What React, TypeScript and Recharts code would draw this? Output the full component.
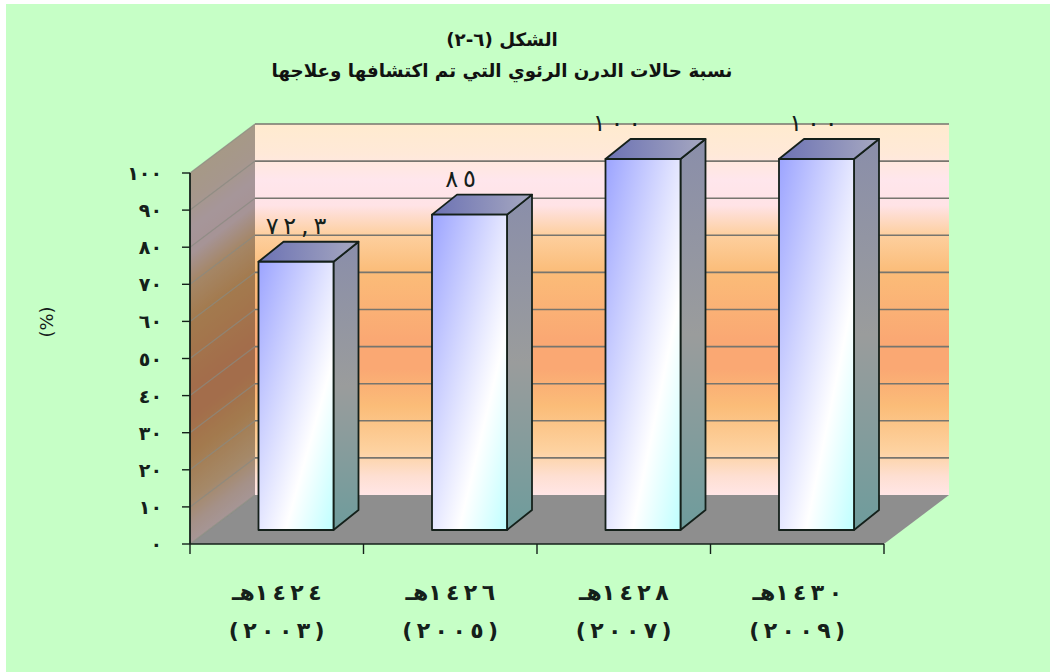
import { BarChart, Bar, XAxis, YAxis, LabelList, Label, ReferenceArea, ReferenceLine } from "recharts";

const hijriYears = ["١٤٢٤هـ", "١٤٢٦هـ", "١٤٢٨هـ", "١٤٣٠هـ"];
const gregorianYears = ["(٢٠٠٣)", "(٢٠٠٥)", "(٢٠٠٧)", "(٢٠٠٩)"];
const detectionRates = [72.3, 85, 100, 100];
const yTicks = [0, 10, 20, 30, 40, 50, 60, 70, 80, 90, 100];
const titleLines = ["الشكل (٦-٢)", "نسبة حالات الدرن الرئوي التي تم اكتشافها وعلاجها"];
const axisTitle = "(%)";
// value labels sit a little off-centre above some columns
const labelNudge = [0, -9, -26, -3];

const chartData = hijriYears.map((hijri, i) => ({
  hijri,
  gregorian: gregorianYears[i],
  rate: detectionRates[i],
}));

const FONT = "'DejaVu Sans', sans-serif";
const INK = "#14201a";

// offset of the back wall from the front axes
const WALL_DX = 65;
const WALL_DY = -49;
// offset of a column's front face from the front axes, and its own depth
const BAR_DX = 19.5;
const BAR_DY = -14;
const BAR_DEPTH_X = 25;
const BAR_DEPTH_Y = -20;

const toArabicDigits = (v: number) =>
  String(v).replace(".", ",").replace(/\d/g, (d) => "٠١٢٣٤٥٦٧٨٩"[Number(d)]);

// letter-spacing is ignored on Arabic runs, so digits are spread with a narrow no-break space
const THIN = "\u202F";
const spreadDigits = (s: string) => s.replace(/([٠-٩,(])(?=[٠-٩,)])/g, `$1${THIN}`);

const wallStops: [number, string][] = [
  [0, "#FFEBCF"],
  [0.08, "#FFE9D8"],
  [0.15, "#FFE6EC"],
  [0.22, "#FFE3E6"],
  [0.3, "#FDCF9E"],
  [0.4, "#FBBC78"],
  [0.58, "#FAA873"],
  [0.66, "#FAA873"],
  [0.76, "#FBBC78"],
  [0.88, "#FDD2A0"],
  [0.95, "#FEDFD2"],
  [1, "#FFE6E6"],
];

// back wall, side wall and floor, spanning the y axis range
function Room({ x, y, width, height }: any) {
  const left = x;
  const right = x + width;
  const top = y;
  const bottom = y + height;
  const backTop = top + WALL_DY;
  const backBottom = bottom + WALL_DY;
  const backLeft = left + WALL_DX;
  const backRight = right + WALL_DX;
  const slope = WALL_DY / WALL_DX;
  return (
    <g>
      <defs>
        <linearGradient id="wallFill" gradientUnits="userSpaceOnUse" x1={0} y1={backTop} x2={0} y2={backBottom}>
          {wallStops.map(([o, c]) => (
            <stop key={o} offset={o} stopColor={c} />
          ))}
        </linearGradient>
        <linearGradient
          id="sideWallFill"
          gradientUnits="userSpaceOnUse"
          x1={0}
          y1={backTop}
          x2={0}
          y2={backBottom}
          gradientTransform={`matrix(1 ${slope} 0 1 0 ${-slope * backLeft})`}
        >
          {wallStops.map(([o, c]) => (
            <stop key={o} offset={o} stopColor={c} />
          ))}
        </linearGradient>
      </defs>
      <rect x={backLeft} y={backTop} width={width} height={height} fill="url(#wallFill)" />
      <polygon
        points={`${left},${top} ${backLeft},${backTop} ${backLeft},${backBottom} ${left},${bottom}`}
        fill="url(#sideWallFill)"
      />
      <polygon
        points={`${left},${top} ${backLeft},${backTop} ${backLeft},${backBottom} ${left},${bottom}`}
        fill="#000"
        fillOpacity={0.35}
      />
      <polygon
        points={`${left},${bottom} ${right},${bottom} ${backRight},${backBottom} ${backLeft},${backBottom}`}
        fill="#8E8E8E"
      />
    </g>
  );
}

// gridline folded across the side wall and back wall
function WallLine({ x1, x2, y1, value }: any) {
  const backLeft = x1 + WALL_DX;
  const backY = y1 + WALL_DY;
  return (
    <g>
      <line x1={x1} y1={y1} x2={backLeft} y2={backY} stroke="#8A8A80" strokeWidth={1.2} strokeOpacity={0.75} />
      {value !== 0 && (
        <line x1={backLeft} y1={backY} x2={x2 + WALL_DX} y2={backY} stroke="#77756E" strokeWidth={1.6} />
      )}
    </g>
  );
}

function Column3D({ x, y, width, height }: any) {
  const fx = x + BAR_DX;
  const fy = y + BAR_DY;
  const dx = BAR_DEPTH_X;
  const dy = BAR_DEPTH_Y;
  const stroke = { stroke: INK, strokeWidth: 1.8, strokeLinejoin: "round" as const };
  return (
    <g>
      <polygon
        points={`${fx + width},${fy} ${fx + width + dx},${fy + dy} ${fx + width + dx},${fy + height + dy} ${fx + width},${fy + height}`}
        fill="url(#barSide)"
        {...stroke}
      />
      <polygon
        points={`${fx},${fy} ${fx + dx},${fy + dy} ${fx + width + dx},${fy + dy} ${fx + width},${fy}`}
        fill="url(#barTop)"
        {...stroke}
      />
      <rect x={fx} y={fy} width={width} height={height} fill="url(#barFront)" {...stroke} />
    </g>
  );
}

function BarValue({ x, y, width, value, index }: any) {
  return (
    <text
      x={x + BAR_DX + width / 2 + labelNudge[index]}
      y={y + BAR_DY - 28}
      textAnchor="middle"
      fontFamily={FONT}
      fontSize={24}
      fill={INK}
      style={{ direction: "ltr", unicodeBidi: "bidi-override" }}
    >
      {spreadDigits(toArabicDigits(value))}
    </text>
  );
}

function YTick({ x, y, payload }: any) {
  return (
    <text x={x - 18} y={y + 7} textAnchor="end" fontFamily={FONT} fontSize={19} fontWeight={700} fill={INK}>
      {toArabicDigits(payload.value)}
    </text>
  );
}

// category label in two lines; tick marks fall on the band edges
function XTick({ x, payload, index }: any) {
  const half = payload.offset;
  const row = chartData[index];
  const markTop = 544;
  const labelStyle = { fontFamily: FONT, fontSize: 22, fontWeight: 700, fill: INK };
  return (
    <g>
      <line x1={x - half} x2={x - half} y1={markTop} y2={markTop + 10} stroke={INK} strokeWidth={1.4} />
      {index === chartData.length - 1 && (
        <line x1={x + half} x2={x + half} y1={markTop} y2={markTop + 10} stroke={INK} strokeWidth={1.4} />
      )}
      <text x={x} y={600} textAnchor="middle" {...labelStyle}>
        {spreadDigits(row.hijri)}
      </text>
      <text x={x} y={638} textAnchor="middle" {...labelStyle}>
        {spreadDigits(row.gregorian)}
      </text>
    </g>
  );
}

function AxisTitle() {
  return (
    <text
      x={0}
      y={0}
      transform="translate(53 322) rotate(-90)"
      textAnchor="middle"
      fontFamily={FONT}
      fontSize={18}
      fill={INK}
    >
      {axisTitle}
    </text>
  );
}

export default function App() {
  return (
    <div style={{ position: "relative", width: 1050, height: 672, background: "#fff", overflow: "hidden" }}>
      <style>{"body{margin:0}"}</style>
      <div style={{ position: "absolute", left: 6, top: 4, right: 0, bottom: 0, background: "#C6FFC6" }} />
      <div
        style={{
          position: "absolute",
          left: 0,
          top: 24,
          width: 1004,
          textAlign: "center",
          fontFamily: FONT,
          fontSize: 18.3,
          fontWeight: 700,
          lineHeight: "31px",
          color: "#111",
        }}
      >
        {titleLines.map((line) => (
          <div key={line} dir="rtl">
            {line}
          </div>
        ))}
      </div>
      <div style={{ position: "absolute", left: 0, top: 0 }}>
        <BarChart
          width={1050}
          height={672}
          data={chartData}
          margin={{ top: 173, right: 166, bottom: 0, left: 0 }}
          barSize={75}
        >
          <defs>
            <linearGradient id="barFront" x1="0" y1="0" x2="1" y2="1">
              <stop offset={0} stopColor="#9CA4FF" />
              <stop offset={0.68} stopColor="#FFFFFF" />
              <stop offset={1} stopColor="#BEFFFF" />
            </linearGradient>
            <linearGradient id="barTop" x1="0" y1="0" x2="1" y2="0">
              <stop offset={0} stopColor="#6C72B4" />
              <stop offset={1} stopColor="#A6A8C0" />
            </linearGradient>
            <linearGradient id="barSide" x1="0" y1="0" x2="0" y2="1">
              <stop offset={0} stopColor="#8A8EAA" />
              <stop offset={0.5} stopColor="#9A9C9C" />
              <stop offset={1} stopColor="#6E9C9C" />
            </linearGradient>
          </defs>
          <XAxis
            dataKey="hijri"
            height={128}
            axisLine={{ stroke: INK, strokeWidth: 1.6 }}
            tickLine={false}
            tick={XTick}
            interval={0}
          />
          <YAxis
            width={190}
            domain={[0, 100]}
            ticks={yTicks}
            interval={0}
            axisLine={{ stroke: INK, strokeWidth: 1.8 }}
            tickLine={{ stroke: INK, strokeWidth: 1.4 }}
            tickSize={8}
            tick={YTick}
          >
            <Label content={AxisTitle} />
          </YAxis>
          <ReferenceArea y1={0} y2={100} shape={Room} ifOverflow="visible" zIndex={50} />
          {yTicks.map((t) => (
            <ReferenceLine
              key={t}
              y={t}
              ifOverflow="visible"
              zIndex={60}
              shape={(p: any) => <WallLine {...p} value={t} />}
            />
          ))}
          <Bar dataKey="rate" shape={Column3D} isAnimationActive={false}>
            <LabelList dataKey="rate" content={BarValue} />
          </Bar>
        </BarChart>
      </div>
    </div>
  );
}
